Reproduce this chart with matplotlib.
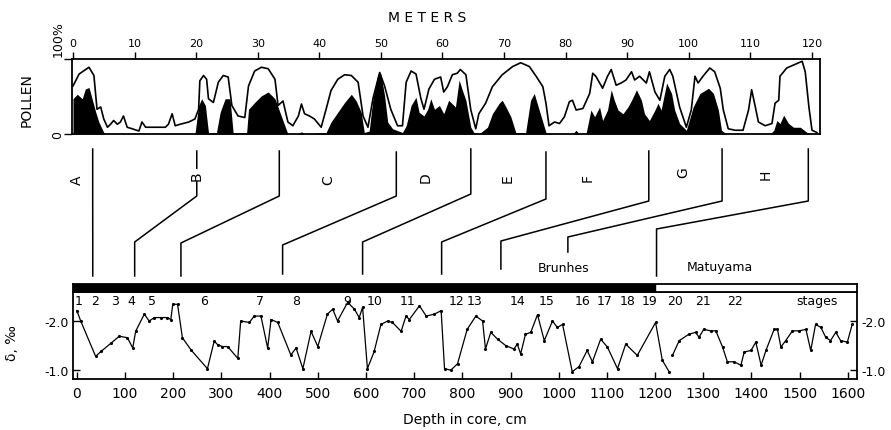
import numpy as np
import matplotlib
matplotlib.use('Agg')
from matplotlib import pyplot as plt
from matplotlib.transforms import blended_transform_factory
from matplotlib.lines import Line2D

# ---- pollen curves (depth in meters, percent) ----
outline_m = [0, 1.0, 2.6, 3.4, 3.9, 4.5, 5.0, 5.6, 6.1, 6.6, 7.2, 7.7, 8.2, 8.8, 9.6, 10.7, 11.2, 11.8,
             12.8, 13.9, 15.0, 15.5, 16.1, 16.6, 17.4, 18.8, 19.8, 20.4, 20.6, 21.2, 21.7, 22.0, 22.8,
             23.6, 24.4, 25.2, 25.8, 26.8, 27.9, 28.5, 29.5, 30.6, 31.7, 32.8, 33.3, 34.1, 34.9, 35.7,
             36.6, 37.1, 37.6, 38.4, 39.2, 40.3, 41.1, 41.9, 43.0, 44.1, 45.2, 46.3, 47.1, 47.9, 48.7,
             49.8, 50.6, 51.6, 52.7, 53.5, 54.1, 54.9, 55.7, 56.5, 57.0, 57.8, 58.7, 59.7, 60.2, 60.8,
             61.6, 62.4, 62.9, 63.8, 64.6, 65.4, 65.9, 67.0, 68.1, 69.7, 71.4, 72.7, 74.1, 75.2, 76.3,
             76.8, 77.3, 78.2, 79.0, 79.8, 80.6, 81.1, 81.7, 82.8, 83.9, 84.4, 84.9, 86.0, 86.8, 87.4,
             88.2, 89.0, 89.8, 90.7, 91.2, 92.0, 92.6, 93.1, 93.6, 94.5, 95.3, 96.1, 96.9, 97.4, 98.5,
             99.6, 100.4, 101.0, 101.5, 102.3, 103.4, 104.2, 105.1, 105.6, 106.4, 107.5, 108.8, 109.7,
             110.2, 110.8, 111.3, 112.4, 113.5, 114.0, 114.6, 114.8, 115.9, 117.0, 118.4, 118.9, 119.5,
             120.0, 120.8]
outline_pct = [64, 80, 89, 78, 33, 36, 20, 9, 13, 18, 13, 16, 24, 9, 7, 4, 16, 9,
               9, 9, 9, 13, 27, 11, 13, 16, 20, 33, 71, 78, 73, 47, 42,
               69, 78, 76, 38, 24, 22, 64, 84, 89, 87, 73, 38, 44, 16, 11,
               24, 40, 27, 24, 20, 9, 33, 58, 73, 79, 78, 69, 24, 9, 47,
               82, 64, 33, 11, 11, 69, 84, 80, 47, 33, 60, 73, 76, 56, 63,
               79, 81, 86, 79, 32, 7, 27, 41, 63, 79, 90, 95, 90, 77, 63,
               41, 11, 16, 14, 23, 43, 45, 32, 34, 54, 81, 77, 61, 77, 86,
               65, 68, 72, 83, 72, 77, 72, 68, 83, 56, 45, 77, 86, 77, 36,
               9, 32, 77, 68, 77, 88, 83, 61, 32, 7, 5, 5, 32,
               59, 36, 16, 11, 14, 41, 45, 77, 88, 92, 97, 83, 36,
               5, 2]

black_m = [0, 0.7, 1.5, 2.0, 2.6, 3.1, 3.7, 4.2, 5.0, 5.3, 19.8, 20.4, 20.9, 21.5, 22.0, 23.3, 23.9,
           24.7, 25.5, 26.0, 28.2, 28.5, 29.5, 30.6, 31.7, 32.8, 33.6, 34.4, 34.9, 36.5, 37.1, 37.6,
           41.1, 41.9, 43.0, 44.1, 45.2, 46.0, 46.8, 47.3, 48.1, 48.7, 49.5, 50.0, 50.6, 51.1, 51.9,
           53.5, 54.1, 54.9, 55.7, 56.2, 57.0, 57.6, 58.1, 58.7, 59.5, 60.2, 61.0, 62.1, 62.7, 63.2,
           63.8, 64.6, 65.1, 65.9, 67.3, 68.1, 69.2, 69.7, 70.3, 71.1, 71.9, 73.5, 74.3, 74.9, 75.7,
           76.8, 77.9, 81.1, 81.7, 82.2, 83.3, 84.1, 84.7, 85.5, 86.0, 86.8, 87.4, 87.9, 88.5, 89.3,
           90.1, 90.7, 91.5, 92.3, 92.8, 93.6, 94.5, 95.0, 95.5, 96.4, 97.2, 97.7, 98.5, 99.6, 100.7,
           101.8, 103.2, 104.0, 104.8, 105.3, 106.1, 113.2, 113.8, 114.3, 114.8, 115.4, 116.2, 117.0,
           118.1, 119.2, 120.0]
black_pct = [47, 53, 47, 60, 62, 47, 29, 16, 2, 0, 0, 38, 47, 38, 2, 2, 29,
             47, 47, 2, 2, 33, 42, 51, 56, 47, 29, 11, 0, 0, 3, 0,
             2, 16, 29, 42, 53, 44, 29, 2, 4, 47, 80, 80, 51, 16, 7,
             2, 11, 38, 49, 29, 24, 33, 47, 33, 38, 27, 45, 36, 72, 59,
             45, 9, 2, 0, 9, 27, 41, 45, 36, 23, 2, 2, 45, 54, 32,
             2, 0, 0, 5, 0, 0, 32, 23, 36, 18, 32, 59, 45, 32, 27,
             36, 45, 59, 45, 27, 18, 32, 41, 32, 68, 54, 32, 14, 5, 36,
             54, 61, 54, 32, 5, 0, 0, 5, 18, 14, 25, 14, 9,
             9, 2, 0]

# ---- oxygen isotope record (depth cm, delta per mil) ----
depth_cm = [0, 8, 39, 50, 71, 88, 105, 116, 122, 140, 150, 161, 174, 188, 195, 199, 209, 219, 237,
            271, 285, 292, 302, 313, 334, 340, 358, 368, 382, 396, 403, 417, 444, 455, 469, 486,
            500, 520, 531, 541, 562, 576, 586, 593, 603, 617, 631, 645, 655, 673, 683, 690, 711,
            725, 742, 756, 763, 776, 790, 810, 828, 842, 848, 859, 873, 890, 907, 914, 921, 931,
            942, 956, 970, 987, 997, 1008, 1028, 1042, 1059, 1070, 1087, 1101, 1122, 1139, 1163,
            1201, 1215, 1229, 1233, 1236, 1250, 1270, 1284, 1291, 1301, 1315, 1326, 1340, 1350,
            1364, 1378, 1385, 1399, 1409, 1420, 1430, 1447, 1454, 1461, 1471, 1485, 1499, 1513,
            1523, 1533, 1544, 1554, 1564, 1575, 1585, 1599, 1609]
delta = [-2.21, -2.0, -1.28, -1.38, -1.55, -1.69, -1.66, -1.45, -1.79, -2.14, -2.0, -2.07, -2.07,
         -2.07, -2.03, -2.34, -2.34, -1.66, -1.41, -1.03, -1.59, -1.52, -1.48, -1.48, -1.24, -2.0,
         -1.97, -2.10, -2.10, -1.45, -2.03, -1.97, -1.31, -1.45, -1.03, -1.79, -1.48, -2.14, -2.24,
         -2.0, -2.38, -2.24, -2.07, -2.28, -1.03, -1.38, -1.93, -2.0, -1.97, -1.79, -2.10, -2.03,
         -2.31, -2.10, -2.14, -2.21, -1.03, -1.0, -1.13, -1.83, -2.1, -2.0, -1.43, -1.77, -1.63,
         -1.5, -1.43, -1.53, -1.33, -1.73, -1.77, -2.13, -1.6, -2.0, -1.87, -1.93, -0.97, -1.07,
         -1.4, -1.17, -1.63, -1.47, -1.03, -1.53, -1.3, -1.97, -1.2, -0.97, np.nan, -1.3, -1.6,
         -1.73, -1.77, -1.67, -1.83, -1.8, -1.8, -1.47, -1.17, -1.17, -1.1, -1.37, -1.4, -1.57,
         -1.1, -1.4, -1.83, -1.83, -1.47, -1.6, -1.8, -1.8, -1.83, -1.4, -1.93, -1.87, -1.67,
         -1.6, -1.77, -1.6, -1.57, -1.93]

stage_labels = [str(i) for i in range(1, 23)]
stage_cm = [4, 37, 79, 114, 156, 263, 380, 456, 562, 618, 687, 788, 826, 915, 975, 1050,
            1095, 1143, 1189, 1241, 1299, 1365]
brunhes_matuyama_cm = 1200

# ---- pollen zones and their correlation to depth ----
zone_labels = ['A', 'B', 'C', 'D', 'E', 'F', 'G', 'H']
zone_label_m = [0.65, 20.1, 41.4, 57.3, 70.5, 83.5, 99.1, 112.4]
zone_label_y = [180, 176, 180, 178, 179, 178, 173, 175]
conn_top_m = [3.2, 20.1, 33.5, 52.5, 64.6, 76.8, 93.5, 105.4, 119.4]
conn_bot_cm = [33, 120, 216, 427, 593, 757, 880, 1019, 1203]
conn_y0 = [150, 152, 152, 153, 150, 153, 152, 150, 150]
conn_y1 = [200, 197, 197, 197, 195, 200, 202, 202, 202]
conn_y2 = [243, 243, 244, 246, 243, 243, 242, 238, 230]
conn_y3 = [277, 277, 277, 275, 275, 275, 270, 253, 277]

W, H = 891, 431
fig = plt.figure(figsize=(W / 100, H / 100), dpi=100)
plt.rcParams['font.family'] = 'DejaVu Sans'

def fr(x0, y0, x1, y1):
    # pixel box -> figure fraction rect
    return [x0 / W, 1 - y1 / H, (x1 - x0) / W, (y1 - y0) / H]

# top pollen panel
ax_top = fig.add_axes(fr(72, 60, 820, 135))
ax_top.fill_between(black_m, 0, black_pct, color='black', lw=0)
ax_top.plot(outline_m, outline_pct, color='black', lw=1.2)
ax_top.set_xlim(-0.16, 121.3)
ax_top.set_ylim(0, 100)
ax_top.xaxis.tick_top()
ax_top.set_xticks(range(0, 121, 10))
ax_top.tick_params(axis='x', direction='out', length=5, width=1, labelsize=8, pad=3)
ax_top.set_yticks([0, 100])
ax_top.set_yticklabels([])
ax_top.tick_params(axis='y', direction='out', length=6, width=1)
for s in ax_top.spines.values():
    s.set_linewidth(1.3)
ax_top.text(-0.019, 1.04, '100%', transform=ax_top.transAxes, rotation=90,
            ha='center', va='bottom', fontsize=9)
ax_top.text(-0.019, 0.0, '0', transform=ax_top.transAxes, rotation=90,
            ha='center', va='center', fontsize=9)
fig.text(27 / W, 1 - 100 / H, 'POLLEN', rotation=90, ha='center', va='center', fontsize=10)
fig.text(427 / W, 1 - 18 / H, 'M E T E R S', ha='center', va='center', fontsize=10)

# isotope panel
ax_bot = fig.add_axes(fr(73, 293, 857, 380))
ax_bot.plot(depth_cm, delta, color='black', lw=0.9, marker='.', ms=2.5)
ax_bot.set_xlim(-8, 1619)
ax_bot.set_ylim(-0.82, -2.59)
ax_bot.set_xticks(range(0, 1601, 100))
ax_bot.tick_params(axis='x', direction='in', length=5, width=1, labelsize=10, pad=5)
ax_bot.set_yticks([-2.0, -1.0])
ax_bot.set_yticklabels(['-2.0', '-1.0'])
ax_bot.tick_params(axis='y', direction='in', length=5, width=1, labelsize=9,
                   left=True, right=True, labelleft=True, labelright=True, pad=3)
for s in ax_bot.spines.values():
    s.set_linewidth(1.3)
ax_bot.set_ylabel('δ, ‰', fontsize=10)
ax_bot.yaxis.set_label_coords(-0.069, 0.42)
ax_bot.set_xlabel('Depth in core, cm', fontsize=10, labelpad=9)
tr = blended_transform_factory(ax_bot.transData, ax_bot.transAxes)
for lab, x in zip(stage_labels, stage_cm):
    ax_bot.text(x, 0.9, lab, transform=tr, ha='center', va='center', fontsize=9)
ax_bot.text(1535, 0.9, 'stages', transform=tr, ha='center', va='center', fontsize=9)

# magnetic polarity bar
ax_bar = fig.add_axes(fr(73, 285, 857, 293))
ax_bar.set_xlim(ax_bot.get_xlim())
ax_bar.set_ylim(0, 1)
ax_bar.axvspan(-8, brunhes_matuyama_cm, color='black')
ax_bar.set_xticks([])
ax_bar.set_yticks([])
for s in ax_bar.spines.values():
    s.set_linewidth(1.3)
trb = blended_transform_factory(ax_bar.transData, fig.transFigure)
ax_bar.text(1010, 1 - 268 / H, 'Brunhes', transform=trb, ha='center', va='center', fontsize=9)
ax_bar.text(1335, 1 - 268 / H, 'Matuyama', transform=trb, ha='center', va='center', fontsize=9)

# correlation lines between pollen zones and core depth
fig.canvas.draw()
inv = fig.transFigure.inverted()
for m, cm, y0, y1, y2, y3 in zip(conn_top_m, conn_bot_cm, conn_y0, conn_y1, conn_y2, conn_y3):
    xt = inv.transform(ax_top.transData.transform((m, 0)))[0]
    xb = inv.transform(ax_bot.transData.transform((cm, 0)))[0]
    xs = [xt, xt, xb, xb]
    ys = [1 - y / H for y in (y0, y1, y2, y3)]
    fig.add_artist(Line2D(xs, ys, color='black', lw=1.1))
for lab, m, y in zip(zone_labels, zone_label_m, zone_label_y):
    xt = inv.transform(ax_top.transData.transform((m, 0)))[0]
    fig.text(xt, 1 - y / H, lab, rotation=90, ha='center', va='center', fontsize=10,
             bbox=dict(facecolor='white', edgecolor='none', pad=1))

fig.savefig('out.png', dpi=100)
